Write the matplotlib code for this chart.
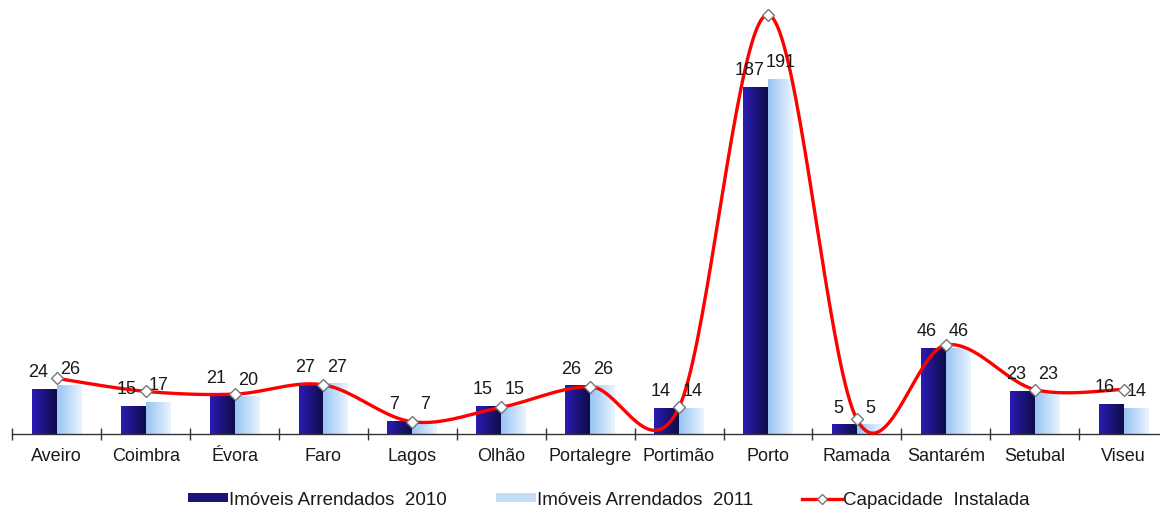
import numpy as np
import matplotlib
matplotlib.use("Agg")
import matplotlib.pyplot as plt
from matplotlib.colors import LinearSegmentedColormap
from matplotlib.patches import Patch
from matplotlib.lines import Line2D

# Data
cidades = ['Aveiro', 'Coimbra', 'Évora', 'Faro', 'Lagos', 'Olhão', 'Portalegre',
           'Portimão', 'Porto', 'Ramada', 'Santarém', 'Setubal', 'Viseu']
arrendados_2010 = [24, 15, 21, 27, 7, 15, 26, 14, 187, 5, 46, 23, 16]
arrendados_2011 = [26, 17, 20, 27, 7, 15, 26, 14, 191, 5, 46, 23, 14]
capacidade = [30, 23, 21.5, 26.5, 6.6, 14.4, 25.5, 14.4, 226, 8, 48, 24, 24]

plt.rcParams['font.family'] = ['Liberation Sans', 'DejaVu Sans']

DARK_L, DARK_R = '#2a1cb4', '#0e0c48'
LIGHT_L, LIGHT_R = '#98c4f4', '#eaf4ff'
cmap_dark = LinearSegmentedColormap.from_list('dark', [DARK_L, DARK_R])
cmap_light = LinearSegmentedColormap.from_list('light', [LIGHT_L, LIGHT_R])


def catmull_rom(x, y, n=40):
    """Excel-like smoothed line through the points"""
    p = np.column_stack([x, y]).astype(float)
    p = np.vstack([p[0], p, p[-1]])
    out = []
    for i in range(1, len(p) - 2):
        p0, p1, p2, p3 = p[i - 1], p[i], p[i + 1], p[i + 2]
        c1 = p1 + (p2 - p0) / 6
        c2 = p2 - (p3 - p1) / 6
        t = np.linspace(0, 1, n)[:, None]
        seg = ((1 - t) ** 3) * p1 + 3 * ((1 - t) ** 2) * t * c1 + 3 * (1 - t) * t ** 2 * c2 + t ** 3 * p2
        out.append(seg)
    out = np.vstack(out)
    return out[:, 0], out[:, 1]


fig = plt.figure(figsize=(11.6, 5.1), dpi=100)
ax = fig.add_axes([0.0106, 0.147, 0.9963, 0.844])

x = np.arange(len(cidades))
w = 0.28
ymax = 232

# gradient bars
grad = np.linspace(0, 1, 64)[None, :]
for xi, v in zip(x, arrendados_2010):
    ax.imshow(grad, cmap=cmap_dark, extent=[xi - w, xi, 0, v], aspect='auto', zorder=2)
for xi, v in zip(x, arrendados_2011):
    ax.imshow(grad, cmap=cmap_light, extent=[xi, xi + w, 0, v], aspect='auto', zorder=2)

# value labels
for xi, v in zip(x, arrendados_2010):
    ax.annotate(str(v), (xi - w / 2, v), xytext=(-4.5, 9.5), textcoords='offset points',
                ha='center', va='baseline', fontsize=13, color='#1a1a1a', zorder=5)
for xi, v in zip(x, arrendados_2011):
    ax.annotate(str(v), (xi + w / 2, v), xytext=(0.5, 9.5), textcoords='offset points',
                ha='center', va='baseline', fontsize=13, color='#1a1a1a', zorder=5)

# smoothed capacity line
sx, sy = catmull_rom(x, capacidade)
ax.plot(sx, sy, color='#ff0000', linewidth=2.4, zorder=4, clip_on=False)
ax.plot(x, capacidade, linestyle='none', marker='D', markersize=6,
        markerfacecolor='white', markeredgecolor='#777777', markeredgewidth=1,
        zorder=6, clip_on=False)

ax.set_xlim(-0.5, len(cidades) - 0.5)
ax.set_ylim(0, ymax)
for s in ['top', 'right', 'left']:
    ax.spines[s].set_visible(False)
ax.spines['bottom'].set_color('#333333')
ax.spines['bottom'].set_linewidth(1.0)
ax.set_yticks([])

ax.set_xticks(np.arange(len(cidades) + 1) - 0.5)
ax.set_xticklabels([])
ax.tick_params(axis='x', which='major', direction='inout', length=8, width=1, color='#333333')
ax.set_xticks(x, minor=True)
ax.set_xticklabels(cidades, minor=True, fontsize=13, color='#1a1a1a')
ax.tick_params(axis='x', which='minor', length=0, pad=9)

# legend
handles = [Patch(facecolor='#1a1478', edgecolor='none'),
           Patch(facecolor='#c4def8', edgecolor='none'),
           Line2D([0], [0], color='#ff0000', linewidth=2.4, marker='D', markersize=5,
                  markerfacecolor='white', markeredgecolor='#777777')]
labels = ['Imóveis Arrendados  2010', 'Imóveis Arrendados  2011', 'Capacidade  Instalada']
fig.legend(handles, labels, loc='center', bbox_to_anchor=(0.525, 0.018), ncol=3, frameon=False,
           prop={'size': 13.5},
           handlelength=2.15, handleheight=0.38, handletextpad=0.05, columnspacing=2.6,
           labelcolor='#1a1a1a')

fig.savefig('out.png', dpi=100)
